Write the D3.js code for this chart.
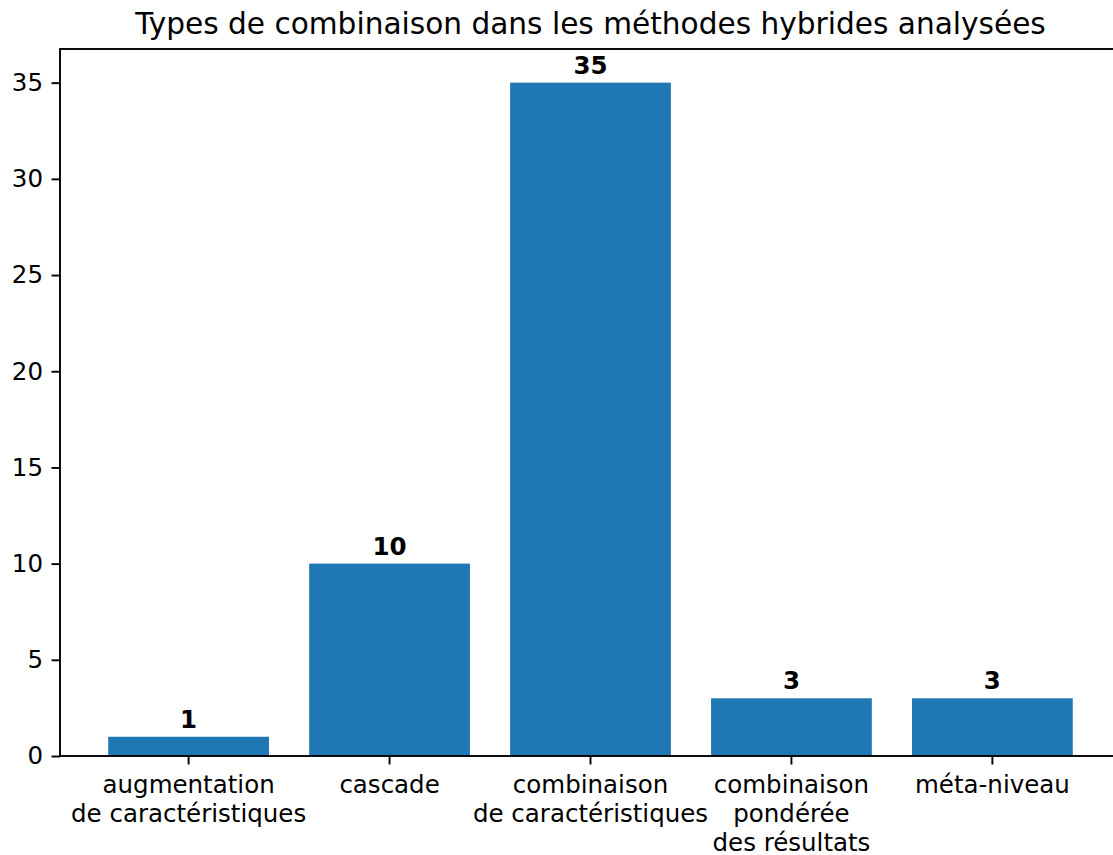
<!DOCTYPE html>
<html>
<head>
<meta charset="utf-8">
<title>Types de combinaison</title>
<style>
  body { margin: 0; background: #fff; }
  text { font-family: "DejaVu Sans", sans-serif; fill: #000; }
</style>
<script src="https://d3js.org/d3.v7.min.js"></script>
</head>
<body>
<div id="chart"></div>
<script>
// data
var categories = [
  ["augmentation", "de caractéristiques"],
  ["cascade"],
  ["combinaison", "de caractéristiques"],
  ["combinaison", "pondérée", "des résultats"],
  ["méta-niveau"]
];
var counts = [1, 10, 35, 3, 3];
var yTicks = [0, 5, 10, 15, 20, 25, 30, 35];
var title = "Types de combinaison dans les méthodes hybrides analysées";

var W = 1113, H = 855;
var margin = {top: 49, left: 60, bottom: 99, right: -8};
var x0 = margin.left, x1 = W - margin.right,
    y0 = margin.top, y1 = H - margin.bottom;
var fs = 24.5;

var keys = categories.map(function(c) { return c.join(" "); });

var x = d3.scaleBand()
  .domain(keys)
  .range([x0, x1])
  .paddingInner(0.2)
  .paddingOuter(0.24);

var y = d3.scaleLinear()
  .domain([0, 36.75])
  .range([y1, y0]);

var svg = d3.select("#chart").append("svg")
  .attr("width", W)
  .attr("height", H);

// bars
svg.selectAll(".bar")
  .data(counts)
  .enter().append("rect")
  .attr("class", "bar")
  .attr("x", function(d, i) { return x(keys[i]); })
  .attr("width", x.bandwidth())
  .attr("y", function(d) { return y(d); })
  .attr("height", function(d) { return y(0) - y(d); })
  .attr("fill", "#1f77b4");

// value labels
svg.selectAll(".val")
  .data(counts)
  .enter().append("text")
  .attr("class", "val")
  .attr("x", function(d, i) { return x(keys[i]) + x.bandwidth() / 2; })
  .attr("y", function(d) { return y(d) - 9; })
  .attr("text-anchor", "middle")
  .style("font-size", fs + "px")
  .style("font-weight", "bold")
  .text(function(d) { return d; });

// y axis
var yAxis = svg.append("g")
  .attr("transform", "translate(" + x0 + ",0)")
  .call(d3.axisLeft(y).tickValues(yTicks).tickSize(8.5).tickPadding(8.5));
yAxis.select(".domain").remove();
yAxis.selectAll("line").attr("stroke", "#000").attr("stroke-width", 1.9);
yAxis.selectAll("text").style("font-size", fs + "px").attr("fill", "#000");

// x axis
var xAxis = svg.append("g")
  .attr("transform", "translate(0," + y1 + ")")
  .call(d3.axisBottom(x).tickSize(8.5).tickFormat(""));
xAxis.select(".domain").remove();
xAxis.selectAll("line").attr("stroke", "#000").attr("stroke-width", 1.9);

var xl = svg.selectAll(".xl")
  .data(categories)
  .enter().append("text")
  .attr("class", "xl")
  .attr("text-anchor", "middle")
  .style("font-size", fs + "px")
  .attr("transform", function(d, i) {
    return "translate(" + (x(keys[i]) + x.bandwidth() / 2) + "," + (y1 + 37) + ")";
  });
xl.selectAll("tspan")
  .data(function(d) { return d; })
  .enter().append("tspan")
  .attr("x", 0)
  .attr("y", function(d, j) { return j * 29; })
  .text(function(d) { return d; });

// spines
svg.append("rect")
  .attr("x", x0)
  .attr("y", y0)
  .attr("width", x1 - x0)
  .attr("height", y1 - y0)
  .attr("fill", "none")
  .attr("stroke", "#000")
  .attr("stroke-width", 1.9);

// title
svg.append("text")
  .attr("x", (x0 + x1) / 2)
  .attr("y", y0 - 15)
  .attr("text-anchor", "middle")
  .style("font-size", "29.6px")
  .text(title);
</script>
</body>
</html>
